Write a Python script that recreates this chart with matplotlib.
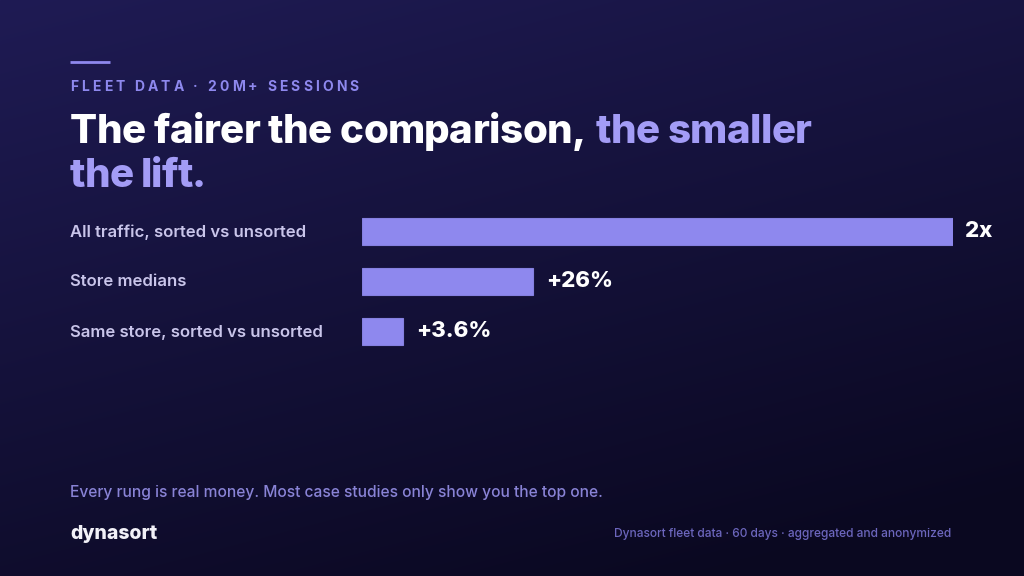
import numpy as np
import matplotlib
matplotlib.use("Agg")
import matplotlib.pyplot as plt

# data
categories = ["All traffic, sorted vs unsorted", "Store medians", "Same store, sorted vs unsorted"]
bar_len = [100, 29, 7]          # bar length, % of the widest bar
value_labels = ["2x", "+26%", "+3.6%"]

kicker = "FLEET DATA · 20M+ SESSIONS"
title_a = "The fairer the comparison,"
title_b = "the smaller"
title_c = "the lift."
footnote = "Every rung is real money. Most case studies only show you the top one."
source = "Dynasort fleet data · 60 days · aggregated and anonymized"

W, H = 1024, 576
LAV = "#8e88ee"
LAV_TITLE = "#a39cf6"
plt.rcParams["font.family"] = ["Inter", "DejaVu Sans"]

fig = plt.figure(figsize=(W / 100, H / 100), dpi=100)

# background gradient
bg = fig.add_axes([0, 0, 1, 1])
yy, xx = np.mgrid[0:H, 0:W]
t = np.clip(0.35 * xx / W + 0.75 * yy / H, 0, 1)[..., None]
c0 = np.array([31, 27, 84]) / 255
c1 = np.array([10, 8, 32]) / 255
bg.imshow(c0 * (1 - t) + c1 * t, extent=[0, W, H, 0], aspect="auto")
bg.set_xlim(0, W)
bg.set_ylim(H, 0)
bg.axis("off")

renderer = fig.canvas.get_renderer()


def px(x, y):
    return x / W, 1 - y / H


# accent line
bg.plot([70, 110], [62, 62], color=LAV, lw=2, solid_capstyle="butt")


def tracked(text, x0, y, width, **kw):
    # place characters one by one so the run spans the given width
    probe = fig.text(0, 0, text, **kw)
    natural = probe.get_window_extent(renderer).width
    probe.remove()
    track = (width - natural) / (len(text) - 1)
    sentinel = fig.text(0, 0, "|", **kw)
    sw = sentinel.get_window_extent(renderer).width
    sentinel.remove()
    for i, ch in enumerate(text):
        if i:
            p = fig.text(0, 0, text[:i] + "|", **kw)
            off = p.get_window_extent(renderer).width - sw
            p.remove()
        else:
            off = 0
        fig.text(*px(x0 + off + i * track, y), ch, **kw)


tracked(kicker, 70, 87, 289, fontsize=10, fontweight="bold", color=LAV, va="center")

# title (tight tracking)
tkw = dict(fontsize=29, fontweight="heavy", va="baseline")
tracked(title_a, 70, 143, 516, color="white", **tkw)
tracked(title_b, 596, 143, 216, color=LAV_TITLE, **tkw)
tracked(title_c, 70, 187, 136, color=LAV_TITLE, **tkw)

# bars
ax = fig.add_axes([362 / W, 1 - 356 / H, 591 / W, 150 / H])
ax.set_facecolor("none")
ypos = np.arange(len(categories))
ax.barh(ypos, bar_len, height=0.54, color=LAV, edgecolor="#8580e0", linewidth=0.8)
ax.set_xlim(0, 100)
ax.set_ylim(len(categories) - 0.5, -0.5)
ax.axis("off")
for i, (v, lab) in enumerate(zip(bar_len, value_labels)):
    ax.annotate(lab, (v, i), xytext=(9, 0), textcoords="offset points",
                fontsize=16, fontweight="heavy", color="white", va="center", ha="left")
for i, cat in enumerate(categories):
    fig.text(*px(70, 232 + 50 * i), cat, fontsize=12, fontweight="semibold",
             color="#c9c5ea", va="center")

# footer
fig.text(*px(70, 492), footnote, fontsize=11.2, fontweight="medium", color="#8983d6", va="center")
fig.text(*px(70, 534), "dynasort", fontsize=14, fontweight="heavy", color="#f2f1f8", va="center")
fig.text(*px(951, 534), source, fontsize=8.6, fontweight="medium", color="#6c66bd", va="center", ha="right")

fig.savefig("out.png", dpi=100)
